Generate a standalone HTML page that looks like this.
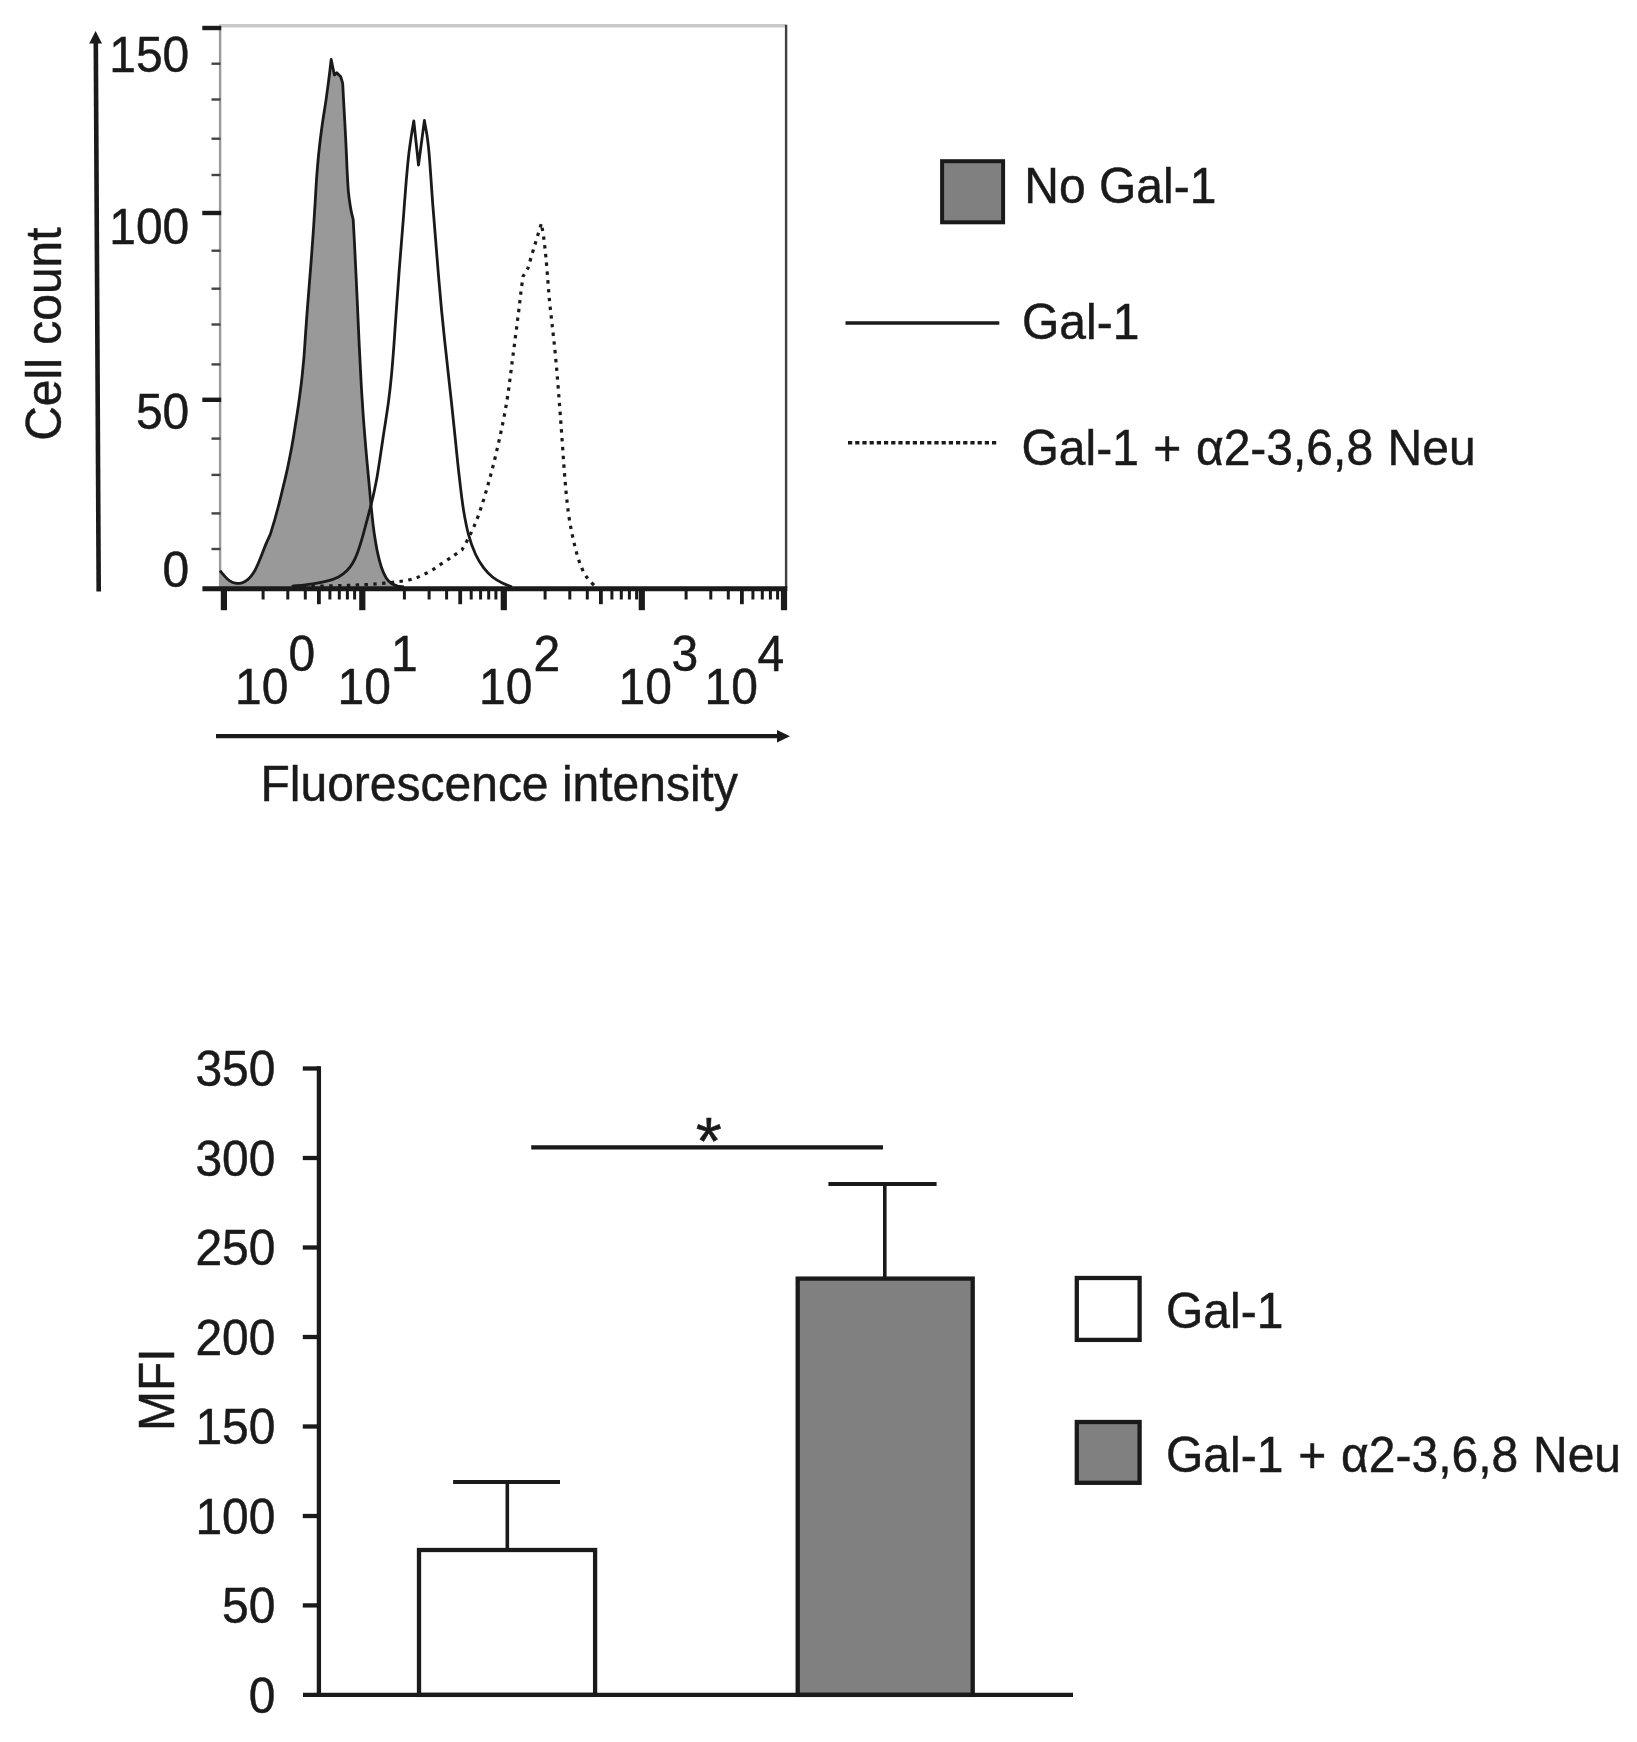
<!DOCTYPE html>
<html lang="en"><head><meta charset="utf-8"><title>Figure</title>
<style>html,body{margin:0;padding:0;background:#fff}svg{display:block}text{font-family:'Liberation Sans', Arial, sans-serif;fill:#1a1a1a;stroke:#1a1a1a;stroke-width:.45px}</style>
</head><body>
<svg width="1637" height="1742" viewBox="0 0 1637 1742">
<rect width="1637" height="1742" fill="#fff"/>
<g>
<g id="hist">
<line x1="219" y1="25.8" x2="786" y2="25.8" stroke="#c9c9c9" stroke-width="3.4"/>
<line x1="220.1" y1="26" x2="220.1" y2="588" stroke="#9a9a9a" stroke-width="2.4"/>
<line x1="786.1" y1="24.7" x2="786.1" y2="588" stroke="#404040" stroke-width="2.4"/>
<line x1="211.5" y1="63.7" x2="220.5" y2="63.7" stroke="#444" stroke-width="2.4"/>
<line x1="211.5" y1="99.5" x2="220.5" y2="99.5" stroke="#444" stroke-width="2.4"/>
<line x1="211.5" y1="138.7" x2="220.5" y2="138.7" stroke="#444" stroke-width="2.4"/>
<line x1="211.5" y1="175" x2="220.5" y2="175" stroke="#444" stroke-width="2.4"/>
<line x1="211.5" y1="250.7" x2="220.5" y2="250.7" stroke="#444" stroke-width="2.4"/>
<line x1="211.5" y1="288.7" x2="220.5" y2="288.7" stroke="#444" stroke-width="2.4"/>
<line x1="211.5" y1="324.5" x2="220.5" y2="324.5" stroke="#444" stroke-width="2.4"/>
<line x1="211.5" y1="364.4" x2="220.5" y2="364.4" stroke="#444" stroke-width="2.4"/>
<line x1="211.5" y1="438.6" x2="220.5" y2="438.6" stroke="#444" stroke-width="2.4"/>
<line x1="211.5" y1="474.9" x2="220.5" y2="474.9" stroke="#444" stroke-width="2.4"/>
<line x1="211.5" y1="513.4" x2="220.5" y2="513.4" stroke="#444" stroke-width="2.4"/>
<line x1="211.5" y1="549" x2="220.5" y2="549" stroke="#444" stroke-width="2.4"/>
<line x1="202.3" y1="28" x2="221.2" y2="28" stroke="#1a1a1a" stroke-width="4.4"/>
<line x1="202.3" y1="213" x2="221.2" y2="213" stroke="#1a1a1a" stroke-width="4.4"/>
<line x1="202.3" y1="399.8" x2="221.2" y2="399.8" stroke="#1a1a1a" stroke-width="4.4"/>
<path d="M220.0,570.6C220.7,571.5 222.8,574.2 224.3,575.8C225.9,577.5 227.5,579.3 229.4,580.6C231.3,581.8 233.3,582.9 235.4,583.2C237.5,583.6 239.8,583.4 241.9,582.8C244.0,582.2 246.1,581.0 248.0,579.4C249.9,577.8 251.7,575.7 253.3,573.1C255.0,570.6 256.5,567.4 257.9,564.1C259.4,560.8 260.8,557.0 262.2,553.6C263.5,550.1 264.9,546.6 266.2,543.4C267.6,540.2 269.6,535.8 270.3,534.3C271.0,531.9 273.2,524.9 274.7,519.8C276.2,514.7 277.6,509.2 279.1,503.6C280.5,498.1 281.9,492.3 283.3,486.3C284.8,480.4 286.2,474.4 287.6,467.9C288.9,461.5 290.3,454.6 291.6,447.7C292.9,440.7 294.1,433.3 295.2,426.0C296.4,418.7 297.5,411.4 298.6,404.0C299.6,396.6 300.6,389.4 301.5,381.7C302.4,374.0 303.1,366.3 303.9,357.8C304.6,349.2 305.1,340.1 305.8,330.4C306.5,320.8 307.2,310.2 308.1,299.6C308.9,289.0 309.8,277.8 310.7,266.9C311.5,256.1 312.4,244.9 313.1,234.3C313.9,223.8 314.4,213.4 315.1,203.6C315.7,193.8 316.1,184.6 316.8,175.5C317.5,166.4 318.2,157.6 319.2,149.1C320.1,140.6 321.2,132.2 322.3,124.3C323.4,116.4 324.7,108.9 325.8,101.6C326.8,94.2 327.8,87.3 328.7,80.3C329.6,73.3 330.8,63.0 331.2,59.5C331.7,62.1 333.9,72.4 334.4,75.0C334.8,74.6 336.4,73.2 336.8,72.8C337.4,73.4 340.0,75.9 340.6,76.5C341.0,77.7 342.4,82.3 342.7,83.5C342.9,86.4 343.3,94.5 343.6,100.9C344.0,107.4 344.4,114.4 344.8,122.2C345.2,129.9 345.7,139.1 346.1,147.4C346.5,155.8 346.9,164.8 347.2,172.3C347.6,179.7 347.9,186.2 348.4,191.9C349.0,197.7 349.6,202.1 350.4,206.7C351.1,211.4 352.7,217.5 353.2,219.7C353.5,224.4 354.2,238.1 354.7,247.9C355.2,257.7 355.7,267.9 356.2,278.5C356.7,289.1 357.2,300.2 357.7,311.3C358.2,322.4 358.7,334.0 359.2,344.9C359.8,355.7 360.3,366.6 360.8,376.3C361.3,386.0 361.8,394.7 362.4,403.0C362.9,411.3 363.4,418.5 364.0,426.0C364.6,433.5 365.2,440.7 365.8,448.0C366.4,455.3 367.1,462.7 367.8,470.0C368.5,477.2 369.1,484.5 369.8,491.7C370.4,498.9 371.1,506.0 371.8,512.9C372.5,519.8 373.3,526.8 374.2,533.3C375.2,539.8 376.2,546.3 377.4,551.9C378.6,557.6 380.0,562.9 381.4,567.2C382.9,571.6 384.5,575.1 386.1,577.8C387.8,580.5 389.6,582.2 391.5,583.5C393.4,584.9 395.4,585.4 397.5,586.0C399.6,586.5 402.9,586.8 404.0,587.0L404,589L220,589Z" fill="#999999" stroke="none"/>
<path d="M220.0,570.6C220.7,571.5 222.8,574.2 224.3,575.8C225.9,577.5 227.5,579.3 229.4,580.6C231.3,581.8 233.3,582.9 235.4,583.2C237.5,583.6 239.8,583.4 241.9,582.8C244.0,582.2 246.1,581.0 248.0,579.4C249.9,577.8 251.7,575.7 253.3,573.1C255.0,570.6 256.5,567.4 257.9,564.1C259.4,560.8 260.8,557.0 262.2,553.6C263.5,550.1 264.9,546.6 266.2,543.4C267.6,540.2 269.6,535.8 270.3,534.3C271.0,531.9 273.2,524.9 274.7,519.8C276.2,514.7 277.6,509.2 279.1,503.6C280.5,498.1 281.9,492.3 283.3,486.3C284.8,480.4 286.2,474.4 287.6,467.9C288.9,461.5 290.3,454.6 291.6,447.7C292.9,440.7 294.1,433.3 295.2,426.0C296.4,418.7 297.5,411.4 298.6,404.0C299.6,396.6 300.6,389.4 301.5,381.7C302.4,374.0 303.1,366.3 303.9,357.8C304.6,349.2 305.1,340.1 305.8,330.4C306.5,320.8 307.2,310.2 308.1,299.6C308.9,289.0 309.8,277.8 310.7,266.9C311.5,256.1 312.4,244.9 313.1,234.3C313.9,223.8 314.4,213.4 315.1,203.6C315.7,193.8 316.1,184.6 316.8,175.5C317.5,166.4 318.2,157.6 319.2,149.1C320.1,140.6 321.2,132.2 322.3,124.3C323.4,116.4 324.7,108.9 325.8,101.6C326.8,94.2 327.8,87.3 328.7,80.3C329.6,73.3 330.8,63.0 331.2,59.5C331.7,62.1 333.9,72.4 334.4,75.0C334.8,74.6 336.4,73.2 336.8,72.8C337.4,73.4 340.0,75.9 340.6,76.5C341.0,77.7 342.4,82.3 342.7,83.5C342.9,86.4 343.3,94.5 343.6,100.9C344.0,107.4 344.4,114.4 344.8,122.2C345.2,129.9 345.7,139.1 346.1,147.4C346.5,155.8 346.9,164.8 347.2,172.3C347.6,179.7 347.9,186.2 348.4,191.9C349.0,197.7 349.6,202.1 350.4,206.7C351.1,211.4 352.7,217.5 353.2,219.7C353.5,224.4 354.2,238.1 354.7,247.9C355.2,257.7 355.7,267.9 356.2,278.5C356.7,289.1 357.2,300.2 357.7,311.3C358.2,322.4 358.7,334.0 359.2,344.9C359.8,355.7 360.3,366.6 360.8,376.3C361.3,386.0 361.8,394.7 362.4,403.0C362.9,411.3 363.4,418.5 364.0,426.0C364.6,433.5 365.2,440.7 365.8,448.0C366.4,455.3 367.1,462.7 367.8,470.0C368.5,477.2 369.1,484.5 369.8,491.7C370.4,498.9 371.1,506.0 371.8,512.9C372.5,519.8 373.3,526.8 374.2,533.3C375.2,539.8 376.2,546.3 377.4,551.9C378.6,557.6 380.0,562.9 381.4,567.2C382.9,571.6 384.5,575.1 386.1,577.8C387.8,580.5 389.6,582.2 391.5,583.5C393.4,584.9 395.4,585.4 397.5,586.0C399.6,586.5 402.9,586.8 404.0,587.0" fill="none" stroke="#1a1a1a" stroke-width="2.8" stroke-linejoin="round"/>
<path d="M294.0,586.8C305.8,586.4 345.7,585.7 364.5,584.7C383.3,583.6 396.4,582.2 406.8,580.3C417.2,578.3 421.1,575.7 426.8,573.0C432.5,570.3 436.6,567.0 440.9,564.2C445.3,561.4 449.4,558.6 453.0,556.1C456.5,553.7 460.6,550.8 462.1,549.7C463.5,547.1 468.0,539.4 470.5,534.1C473.1,528.8 475.4,523.3 477.6,517.7C479.7,512.2 481.5,506.4 483.3,500.7C485.1,495.0 486.7,489.3 488.3,483.7C489.9,478.0 491.4,472.4 492.9,466.7C494.3,461.1 495.7,455.4 497.0,449.7C498.3,443.9 499.6,438.1 500.9,432.4C502.1,426.6 503.3,420.8 504.4,415.0C505.5,409.2 506.5,403.5 507.4,397.7C508.3,391.9 509.1,386.2 509.8,380.4C510.6,374.6 511.3,368.8 512.0,363.1C512.7,357.3 513.5,351.5 514.3,345.7C515.0,339.8 515.8,334.0 516.6,328.1C517.3,322.2 518.0,316.3 518.8,310.5C519.5,304.7 520.1,298.9 520.8,293.2C521.5,287.6 522.6,279.3 523.0,276.5C523.8,275.1 527.2,269.4 528.0,268.0C529.1,264.1 532.6,252.3 534.9,244.8C537.1,237.4 540.3,227.0 541.4,223.4C541.8,225.9 543.0,232.7 543.8,238.3C544.5,243.8 545.2,250.2 545.9,256.9C546.5,263.6 547.1,271.2 547.7,278.4C548.2,285.5 548.8,292.9 549.4,299.8C550.1,306.8 550.8,313.3 551.6,320.0C552.3,326.8 553.1,333.2 553.9,340.5C554.7,347.9 555.5,355.7 556.2,364.0C557.0,372.3 557.7,381.4 558.4,390.4C559.1,399.3 559.8,408.5 560.5,417.5C561.1,426.4 561.8,435.4 562.4,444.2C563.0,453.0 563.6,461.8 564.2,470.0C564.9,478.3 565.5,486.2 566.2,493.5C566.9,500.8 567.7,507.3 568.5,513.6C569.4,520.0 570.4,525.8 571.6,531.5C572.7,537.2 574.0,542.9 575.3,548.0C576.6,553.1 578.0,558.0 579.5,562.2C580.9,566.3 582.4,569.8 584.0,572.8C585.7,575.9 587.5,578.3 589.4,580.5C591.3,582.8 594.6,585.5 595.6,586.5" fill="none" stroke="#1a1a1a" stroke-width="3.2" stroke-dasharray="3.4 5.4" stroke-linejoin="round"/>
<path d="M291.8,586.3C295.0,585.9 305.0,585.0 310.9,584.1C316.7,583.3 322.1,582.4 326.7,581.2C331.3,580.0 335.1,578.6 338.5,576.9C341.8,575.2 344.4,573.2 346.8,570.8C349.2,568.5 351.1,565.8 352.9,562.7C354.7,559.6 356.2,556.2 357.6,552.4C359.0,548.7 360.3,544.6 361.5,540.4C362.8,536.1 364.0,531.6 365.2,527.0C366.5,522.3 367.8,517.5 369.1,512.4C370.4,507.3 371.8,502.1 373.1,496.4C374.4,490.7 375.6,484.7 376.8,478.5C377.9,472.2 378.9,465.5 379.9,459.0C380.9,452.5 381.8,445.9 382.8,439.5C383.7,433.1 384.7,427.2 385.7,420.8C386.6,414.3 387.7,408.3 388.6,400.9C389.6,393.4 390.5,385.4 391.4,376.2C392.3,366.9 393.1,356.2 393.9,345.5C394.7,334.9 395.4,323.1 396.2,312.0C397.0,300.9 397.8,289.6 398.6,278.9C399.3,268.3 400.2,257.9 401.0,248.2C401.7,238.5 402.5,229.2 403.2,220.5C403.9,211.7 404.4,203.6 405.1,195.7C405.7,187.9 406.2,180.4 406.9,173.3C407.5,166.2 408.2,159.4 408.9,153.2C409.7,147.0 410.5,141.4 411.3,136.0C412.1,130.6 413.4,123.5 413.8,121.0C414.6,128.3 417.7,157.7 418.5,165.0C419.5,157.6 423.4,127.9 424.4,120.5C424.8,122.8 426.1,129.6 426.9,134.6C427.6,139.6 428.3,144.7 428.8,150.5C429.4,156.3 429.8,162.5 430.3,169.3C430.8,176.0 431.2,183.2 431.8,190.9C432.3,198.7 432.9,206.9 433.7,215.8C434.4,224.8 435.2,234.5 436.0,244.6C436.8,254.8 437.7,265.9 438.6,276.8C439.6,287.6 440.5,298.9 441.5,309.6C442.5,320.3 443.6,330.6 444.7,340.8C445.8,351.1 446.9,360.6 448.0,371.1C449.2,381.6 450.3,392.1 451.6,403.6C452.8,415.0 454.1,427.7 455.4,439.9C456.6,452.1 457.9,465.3 459.3,476.9C460.6,488.5 461.9,499.7 463.4,509.4C465.0,519.1 466.6,527.5 468.6,534.9C470.6,542.3 472.9,548.5 475.4,554.0C477.9,559.5 480.8,564.0 483.7,567.9C486.6,571.7 489.7,574.7 492.8,577.3C495.9,579.8 499.1,581.5 502.3,583.1C505.5,584.7 510.4,586.4 512.0,587.0" fill="none" stroke="#1a1a1a" stroke-width="2.8" stroke-linejoin="round"/>
<line x1="202.4" y1="588.8" x2="787.3" y2="588.8" stroke="#1a1a1a" stroke-width="5"/>
<line x1="223.9" y1="589" x2="223.9" y2="610.2" stroke="#1a1a1a" stroke-width="6.2"/>
<line x1="362.3" y1="589" x2="362.3" y2="610.2" stroke="#1a1a1a" stroke-width="6.2"/>
<line x1="503.8" y1="589" x2="503.8" y2="610.2" stroke="#1a1a1a" stroke-width="6.2"/>
<line x1="641.8" y1="589" x2="641.8" y2="610.2" stroke="#1a1a1a" stroke-width="6.2"/>
<line x1="784" y1="589" x2="784" y2="610.2" stroke="#1a1a1a" stroke-width="6.2"/>
<line x1="263.1" y1="589" x2="263.1" y2="599.5" stroke="#1a1a1a" stroke-width="3"/>
<line x1="287.8" y1="589" x2="287.8" y2="599.5" stroke="#1a1a1a" stroke-width="3"/>
<line x1="305.3" y1="589" x2="305.3" y2="599.5" stroke="#1a1a1a" stroke-width="3"/>
<line x1="318.9" y1="589" x2="318.9" y2="604.2" stroke="#1a1a1a" stroke-width="3.8"/>
<line x1="329.9" y1="589" x2="329.9" y2="599.5" stroke="#1a1a1a" stroke-width="3"/>
<line x1="339.3" y1="589" x2="339.3" y2="599.5" stroke="#1a1a1a" stroke-width="3"/>
<line x1="347.4" y1="589" x2="347.4" y2="599.5" stroke="#1a1a1a" stroke-width="3"/>
<line x1="354.6" y1="589" x2="354.6" y2="599.5" stroke="#1a1a1a" stroke-width="3"/>
<line x1="404.4" y1="589" x2="404.4" y2="599.5" stroke="#1a1a1a" stroke-width="3"/>
<line x1="429.1" y1="589" x2="429.1" y2="599.5" stroke="#1a1a1a" stroke-width="3"/>
<line x1="446.6" y1="589" x2="446.6" y2="599.5" stroke="#1a1a1a" stroke-width="3"/>
<line x1="460.2" y1="589" x2="460.2" y2="604.2" stroke="#1a1a1a" stroke-width="3.8"/>
<line x1="471.2" y1="589" x2="471.2" y2="599.5" stroke="#1a1a1a" stroke-width="3"/>
<line x1="480.6" y1="589" x2="480.6" y2="599.5" stroke="#1a1a1a" stroke-width="3"/>
<line x1="488.7" y1="589" x2="488.7" y2="599.5" stroke="#1a1a1a" stroke-width="3"/>
<line x1="495.9" y1="589" x2="495.9" y2="599.5" stroke="#1a1a1a" stroke-width="3"/>
<line x1="545.1" y1="589" x2="545.1" y2="599.5" stroke="#1a1a1a" stroke-width="3"/>
<line x1="569.8" y1="589" x2="569.8" y2="599.5" stroke="#1a1a1a" stroke-width="3"/>
<line x1="587.3" y1="589" x2="587.3" y2="599.5" stroke="#1a1a1a" stroke-width="3"/>
<line x1="600.9" y1="589" x2="600.9" y2="604.2" stroke="#1a1a1a" stroke-width="3.8"/>
<line x1="611.9" y1="589" x2="611.9" y2="599.5" stroke="#1a1a1a" stroke-width="3"/>
<line x1="621.3" y1="589" x2="621.3" y2="599.5" stroke="#1a1a1a" stroke-width="3"/>
<line x1="629.4" y1="589" x2="629.4" y2="599.5" stroke="#1a1a1a" stroke-width="3"/>
<line x1="636.6" y1="589" x2="636.6" y2="599.5" stroke="#1a1a1a" stroke-width="3"/>
<line x1="686.1" y1="589" x2="686.1" y2="599.5" stroke="#1a1a1a" stroke-width="3"/>
<line x1="710.8" y1="589" x2="710.8" y2="599.5" stroke="#1a1a1a" stroke-width="3"/>
<line x1="728.3" y1="589" x2="728.3" y2="599.5" stroke="#1a1a1a" stroke-width="3"/>
<line x1="741.9" y1="589" x2="741.9" y2="604.2" stroke="#1a1a1a" stroke-width="3.8"/>
<line x1="752.9" y1="589" x2="752.9" y2="599.5" stroke="#1a1a1a" stroke-width="3"/>
<line x1="762.3" y1="589" x2="762.3" y2="599.5" stroke="#1a1a1a" stroke-width="3"/>
<line x1="770.4" y1="589" x2="770.4" y2="599.5" stroke="#1a1a1a" stroke-width="3"/>
<line x1="777.6" y1="589" x2="777.6" y2="599.5" stroke="#1a1a1a" stroke-width="3"/>
<text transform="translate(189.3,71.8) scale(1,1.045)" font-size="48" text-anchor="end">150</text>
<text transform="translate(189.3,244.3) scale(1,1.045)" font-size="48" text-anchor="end">100</text>
<text transform="translate(189.3,429.3) scale(1,1.045)" font-size="48" text-anchor="end">50</text>
<text transform="translate(189.3,586.7) scale(1,1.045)" font-size="48" text-anchor="end">0</text>
<text transform="translate(235,704.3) scale(1,1.045)" font-size="48">10<tspan x="53.5" dy="-31.9">0</tspan></text>
<text transform="translate(337.5,704.3) scale(1,1.045)" font-size="48">10<tspan x="53.5" dy="-31.9">1</tspan></text>
<text transform="translate(479,704.3) scale(1,1.045)" font-size="48">10<tspan x="54.5" dy="-31.9">2</tspan></text>
<text transform="translate(618.5,704.3) scale(1,1.045)" font-size="48">10<tspan x="53.0" dy="-31.9">3</tspan></text>
<text transform="translate(704.5,704.3) scale(1,1.045)" font-size="48">10<tspan x="53.0" dy="-31.9">4</tspan></text>
<line x1="98.7" y1="591.6" x2="95.8" y2="41" stroke="#1a1a1a" stroke-width="4.6"/>
<polygon points="95.6,31 89.2,43.5 102,43.5" fill="#1a1a1a"/>
<line x1="216" y1="736.2" x2="779" y2="736.2" stroke="#1a1a1a" stroke-width="4.2"/>
<polygon points="790,736.2 777,730 777,742.4" fill="#1a1a1a"/>
<text transform="translate(61,440.8) rotate(-90) scale(1,1.045)" font-size="48">Cell count</text>
<text transform="translate(260.5,801.3) scale(1,1.045)" font-size="48">Fluorescence intensity</text>
<rect x="942.1" y="161.2" width="61" height="61.1" fill="#808080" stroke="#1a1a1a" stroke-width="4"/>
<text transform="translate(1024.3,202.8) scale(1,1.045)" font-size="48">No Gal-1</text>
<line x1="845.5" y1="323" x2="999.3" y2="323" stroke="#1a1a1a" stroke-width="3.7"/>
<text transform="translate(1022,339.2) scale(1,1.045)" font-size="48">Gal-1</text>
<line x1="848" y1="442.7" x2="999" y2="442.7" stroke="#1a1a1a" stroke-width="3.5" stroke-dasharray="4.2 3"/>
<text transform="translate(1021.5,464.6) scale(1,1.045)" font-size="48" word-spacing="1.2">Gal-1 + α2-3,6,8 Neu</text>
</g>
<g id="bars">
<rect x="419" y="1550" width="176.1" height="144.9000000000001" fill="#fff" stroke="#1a1a1a" stroke-width="4.3"/>
<rect x="797.7" y="1278.6" width="175" height="416.3" fill="#808080" stroke="#1a1a1a" stroke-width="4.3"/>
<line x1="507.3" y1="1550" x2="507.3" y2="1481.9" stroke="#1a1a1a" stroke-width="3.6"/>
<line x1="453.1" y1="1481.9" x2="560" y2="1481.9" stroke="#1a1a1a" stroke-width="4"/>
<line x1="884.8" y1="1278" x2="884.8" y2="1183.9" stroke="#1a1a1a" stroke-width="3.6"/>
<line x1="828.4" y1="1183.9" x2="936.6" y2="1183.9" stroke="#1a1a1a" stroke-width="4"/>
<line x1="318.9" y1="1066.3" x2="318.9" y2="1697.0500000000002" stroke="#1a1a1a" stroke-width="4.3"/>
<line x1="303" y1="1694.9" x2="1073" y2="1694.9" stroke="#1a1a1a" stroke-width="4.3"/>
<line x1="302.8" y1="1068.5" x2="320" y2="1068.5" stroke="#1a1a1a" stroke-width="4.3"/>
<text transform="translate(275.5,1086.1) scale(1,1.045)" font-size="48" text-anchor="end">350</text>
<line x1="302.8" y1="1158.0" x2="320" y2="1158.0" stroke="#1a1a1a" stroke-width="4.3"/>
<text transform="translate(275.5,1175.6) scale(1,1.045)" font-size="48" text-anchor="end">300</text>
<line x1="302.8" y1="1247.5" x2="320" y2="1247.5" stroke="#1a1a1a" stroke-width="4.3"/>
<text transform="translate(275.5,1265.1) scale(1,1.045)" font-size="48" text-anchor="end">250</text>
<line x1="302.8" y1="1337.0" x2="320" y2="1337.0" stroke="#1a1a1a" stroke-width="4.3"/>
<text transform="translate(275.5,1354.6) scale(1,1.045)" font-size="48" text-anchor="end">200</text>
<line x1="302.8" y1="1426.5" x2="320" y2="1426.5" stroke="#1a1a1a" stroke-width="4.3"/>
<text transform="translate(275.5,1444.1) scale(1,1.045)" font-size="48" text-anchor="end">150</text>
<line x1="302.8" y1="1516.0" x2="320" y2="1516.0" stroke="#1a1a1a" stroke-width="4.3"/>
<text transform="translate(275.5,1533.5) scale(1,1.045)" font-size="48" text-anchor="end">100</text>
<line x1="302.8" y1="1605.4" x2="320" y2="1605.4" stroke="#1a1a1a" stroke-width="4.3"/>
<text transform="translate(275.5,1623.0) scale(1,1.045)" font-size="48" text-anchor="end">50</text>
<text transform="translate(275.5,1712.5) scale(1,1.045)" font-size="48" text-anchor="end">0</text>
<line x1="531.2" y1="1147.3" x2="883" y2="1147.3" stroke="#1a1a1a" stroke-width="4.3"/>
<text x="708.7" y="1163.6" font-size="67" text-anchor="middle">*</text>
<text transform="translate(174.3,1431) rotate(-90) scale(1,1.045)" font-size="48">MFI</text>
<rect x="1076.8" y="1278" width="62.8" height="61.9" fill="#fff" stroke="#1a1a1a" stroke-width="4.3"/>
<text transform="translate(1166,1328) scale(1,1.045)" font-size="48">Gal-1</text>
<rect x="1076.8" y="1422" width="62.8" height="60.8" fill="#808080" stroke="#1a1a1a" stroke-width="4.3"/>
<text transform="translate(1166,1472) scale(1,1.045)" font-size="48" word-spacing="1.5">Gal-1 + α2-3,6,8 Neu</text>
</g>
</g>
</svg></body></html>
